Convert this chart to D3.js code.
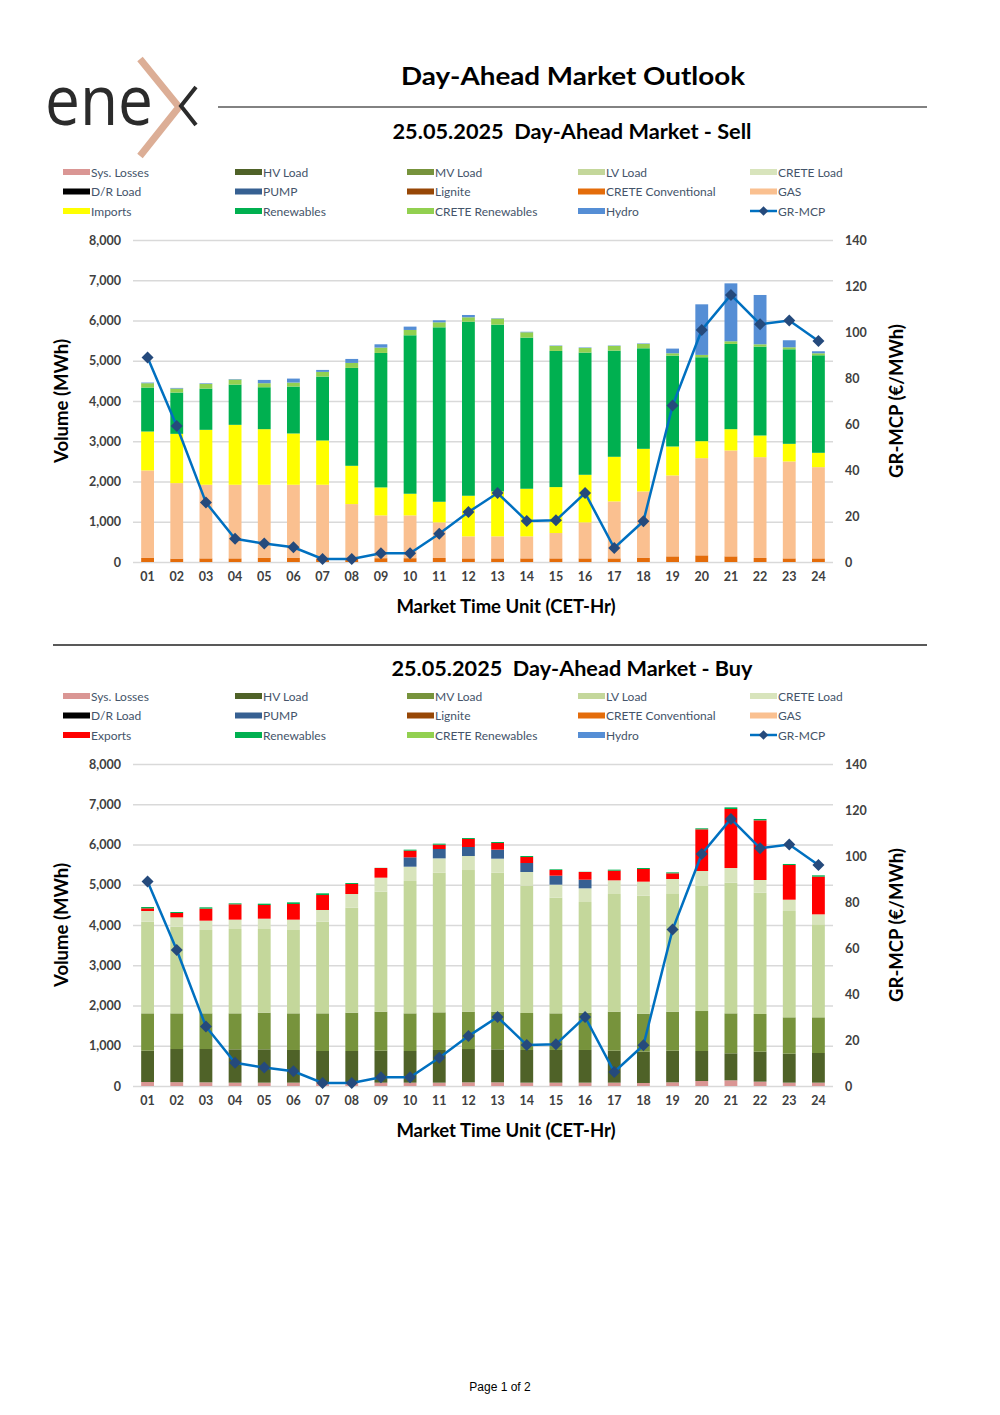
<!DOCTYPE html>
<html>
<head>
<meta charset="utf-8">
<script src="https://cdn.jsdelivr.net/npm/d3@7/dist/d3.min.js"></script>
<style>
body { margin: 0; background: #fff; }
text { font-family: Lato, "DejaVu Sans", sans-serif; }
</style>
</head>
<body>
<svg id="page" width="1000" height="1415"></svg>
<script>
// hours of the day (x categories)
var hours = ["01","02","03","04","05","06","07","08","09","10","11","12",
             "13","14","15","16","17","18","19","20","21","22","23","24"];

// GR-MCP price, EUR/MWh
var mcp = [88.9, 59.1, 25.9, 10.1, 8.0, 6.4, 1.3, 1.3, 3.8, 3.8, 12.3, 21.7,
           30.0, 17.8, 18.1, 30.0, 6.1, 17.7, 68.0, 100.9, 116.1, 103.4, 105.0, 96.1];

// ---- Sell side (MWh) ----
var creteConv = [100, 85, 90, 90, 100, 100, 90, 90, 95, 95, 100, 90,
                 90, 90, 90, 90, 90, 100, 140, 165, 140, 100, 90, 90];
var gas = [2175, 1875, 1829, 1829, 1819, 1819, 1829, 1349, 1063, 1063, 884, 547,
           547, 547, 630, 894, 1415, 1653, 2010, 2415, 2631, 2505, 2408, 2267];
var imports = [967, 1224, 1365, 1489, 1381, 1274, 1100, 951, 695, 538, 513, 1009,
               1116, 1183, 1141, 1183, 1109, 1059, 720, 422, 529, 538, 438, 356];
var renewables = [1092, 1026, 1025, 1000, 1042, 1166, 1588, 2432, 3341, 3937, 4334, 4326,
                  4144, 3755, 3383, 3036, 2638, 2498, 2258, 2085, 2118, 2209, 2349, 2423];
var creteRen = [108, 99, 116, 125, 100, 99, 116, 124, 133, 132, 124, 108,
                149, 132, 124, 115, 116, 108, 58, 58, 66, 57, 50, 50];
var hydro = [16, 16, 15, 12, 82, 99, 49, 99, 82, 83, 50, 57,
             10, 13, 10, 12, 10, 12, 116, 1257, 1439, 1225, 174, 50];

// ---- Buy side (MWh) ----
var sysLosses = [99, 95, 91, 83, 83, 83, 83, 83, 83, 83, 83, 91,
                 91, 83, 83, 83, 83, 75, 91, 124, 141, 108, 83, 83];
var hvLoad = [779, 824, 828, 828, 828, 812, 787, 787, 795, 787, 812, 828,
              820, 812, 812, 812, 795, 778, 787, 746, 671, 745, 720, 737];
var mvLoad = [927, 886, 886, 894, 911, 910, 935, 952, 969, 935, 935, 928,
              936, 919, 910, 927, 969, 944, 969, 993, 993, 936, 903, 886];
var lvLoad = [2278, 2154, 2071, 2096, 2079, 2071, 2278, 2609, 2981, 3288, 3470, 3519,
              3453, 3163, 2874, 2749, 2923, 2932, 2940, 3106, 3247, 3014, 2642, 2311];
var creteLoad = [265, 231, 232, 232, 256, 257, 290, 339, 348, 356, 356, 348,
                 348, 340, 323, 340, 340, 348, 356, 373, 364, 315, 281, 248];
var pump = [0, 0, 0, 0, 0, 0, 0, 0, 0, 232, 232, 224,
            224, 223, 224, 215, 0, 0, 0, 0, 0, 0, 0, 0];
var exportsMW = [66, 108, 298, 381, 340, 389, 372, 249, 240, 166, 108, 199,
                 165, 149, 140, 191, 240, 314, 141, 1035, 1466, 1482, 862, 936];
var buyRen = [33, 25, 33, 24, 33, 41, 42, 24, 4, 25, 25, 24,
              25, 25, 17, 5, 25, 25, 24, 25, 41, 34, 25, 33];

var colors = {
	sys: "#da9694", hv: "#4f6228", mv: "#77933c", lv: "#c4d79b", creteLoad: "#d8e4bc",
	dr: "#000000", pump: "#366092", lignite: "#974706", creteConv: "#e46c0a", gas: "#fac090",
	imports: "#ffff00", exports: "#ff0000", ren: "#00b050", creteRen: "#92d050", hydro: "#558ed5",
	line: "#0070c0", marker: "#254a7c"
};

var svg = d3.select("#page");

// logo
var logo = svg.append("g");
logo.append("text")
	.attr("x", 45).attr("y", 125)
	.attr("textLength", 108).attr("lengthAdjust", "spacingAndGlyphs")
	.style("font-family", "'Open Sans', sans-serif")
	.style("font-size", "70px").style("font-weight", 400)
	.attr("fill", "#2b2b2b").text("ene");
logo.append("path")
	.attr("d", "M140,59 L179,107 L140,156")
	.attr("fill", "none").attr("stroke", "#dcae96").attr("stroke-width", 7);
logo.append("path")
	.attr("d", "M196,87 L181,106 L196,125")
	.attr("fill", "none").attr("stroke", "#2b2b2b").attr("stroke-width", 4);

// page title
svg.append("text")
	.attr("x", 573).attr("y", 85)
	.attr("text-anchor", "middle")
	.attr("textLength", 344).attr("lengthAdjust", "spacingAndGlyphs")
	.style("font-size", "25px").style("font-weight", "bold")
	.text("Day-Ahead Market Outlook");
svg.append("line")
	.attr("x1", 218).attr("x2", 927).attr("y1", 107).attr("y2", 107)
	.attr("stroke", "#595959").attr("stroke-width", 1.5);
svg.append("line")
	.attr("x1", 53).attr("x2", 927).attr("y1", 645).attr("y2", 645)
	.attr("stroke", "#595959").attr("stroke-width", 2);

svg.append("text")
	.attr("x", 500).attr("y", 1391)
	.attr("text-anchor", "middle")
	.style("font-family", "'Liberation Sans', Arial, sans-serif")
	.style("font-size", "12px")
	.text("Page 1 of 2");

// diamond marker: a square turned 45 degrees
var diamond = d3.symbol(d3.symbolSquare, 72)();

// Draw one stacked bar + price line panel
function drawPanel(cfg) {
	var g = svg.append("g");

	// subtitle
	g.append("text")
		.attr("x", 572).attr("y", cfg.titleY)
		.attr("text-anchor", "middle")
		.attr("textLength", cfg.titleLen).attr("lengthAdjust", "spacingAndGlyphs")
		.style("font-size", "20px").style("font-weight", "bold")
		.style("white-space", "pre")
		.text(cfg.title);

	// legend
	var legendCols = [63, 235, 407, 578, 750];
	cfg.legend.forEach(function(item, i) {
		var lx = legendCols[i % 5];
		var ly = cfg.legendY + Math.floor(i / 5) * 19.5;
		if (item.line) {
			g.append("line")
				.attr("x1", lx).attr("x2", lx + 27).attr("y1", ly).attr("y2", ly)
				.attr("stroke", colors.line).attr("stroke-width", 2.5);
			g.append("path")
				.attr("d", d3.symbol(d3.symbolSquare, 45)())
				.attr("transform", "translate(" + (lx + 13.5) + "," + ly + ") rotate(45)")
				.attr("fill", colors.marker);
		} else {
			g.append("rect")
				.attr("x", lx).attr("y", ly - 3)
				.attr("width", 27).attr("height", 6)
				.attr("fill", item.color);
		}
		g.append("text")
			.attr("x", lx + 28).attr("y", ly + 4.5)
			.style("font-size", "12px")
			.attr("fill", "#44546a")
			.text(item.name);
	});

	var x = d3.scaleBand()
		.domain(hours)
		.range([133, 833])
		.paddingInner(0.56)
		.paddingOuter(0.28);
	var y = d3.scaleLinear().domain([0, 8000]).range([cfg.zeroY, cfg.zeroY - 322]);
	var y2 = d3.scaleLinear().domain([0, 140]).range([cfg.zeroY, cfg.zeroY - 322]);

	// gridlines
	var grid = g.append("g")
		.attr("transform", "translate(133,0)")
		.call(d3.axisLeft(y).tickValues(d3.range(0, 8001, 1000)).tickSize(-700).tickFormat(""));
	grid.select(".domain").remove();
	grid.selectAll("line").attr("stroke", "#d9d9d9").attr("stroke-width", 1.3);

	// left axis
	var yAxis = g.append("g")
		.attr("transform", "translate(133,0)")
		.call(d3.axisLeft(y).tickValues(d3.range(0, 8001, 1000)).tickSize(0).tickPadding(12)
			.tickFormat(d3.format(",")));
	yAxis.select(".domain").remove();
	yAxis.selectAll("text")
		.style("font-family", "Lato, sans-serif").style("font-size", "12.5px").style("font-weight", "bold")
		.attr("fill", "#404040");

	// right axis
	var yAxis2 = g.append("g")
		.attr("transform", "translate(833,0)")
		.call(d3.axisRight(y2).tickValues(d3.range(0, 141, 20)).tickSize(0).tickPadding(12));
	yAxis2.select(".domain").remove();
	yAxis2.selectAll("text")
		.style("font-family", "Lato, sans-serif").style("font-size", "12.5px").style("font-weight", "bold")
		.attr("fill", "#404040");

	// stacked bars
	var table = hours.map(function(h, i) {
		var row = { hour: h };
		cfg.series.forEach(function(s) { row[s.key] = s.values[i]; });
		return row;
	});
	var stack = d3.stack().keys(cfg.series.map(function(s) { return s.key; }));
	var layers = stack(table);

	g.selectAll(".layer")
		.data(layers)
		.enter().append("g")
		.attr("fill", function(d, i) { return cfg.series[i].color; })
		.selectAll("rect")
		.data(function(d) { return d; })
		.enter().append("rect")
		.attr("x", function(d) { return x(d.data.hour); })
		.attr("width", x.bandwidth())
		.attr("y", function(d) { return y(d[1]); })
		.attr("height", function(d) { return Math.max(0, y(d[0]) - y(d[1])); });

	// x axis labels
	var xAxis = g.append("g")
		.attr("transform", "translate(0," + cfg.zeroY + ")")
		.call(d3.axisBottom(x).tickSize(0).tickPadding(10));
	xAxis.select(".domain").remove();
	xAxis.selectAll("text")
		.style("font-family", "Lato, sans-serif").style("font-size", "12.5px").style("font-weight", "bold")
		.attr("fill", "#404040");

	// price line
	var line = d3.line()
		.x(function(d, i) { return x(hours[i]) + x.bandwidth() / 2; })
		.y(function(d) { return y2(d); });
	g.append("path")
		.datum(mcp)
		.attr("d", line)
		.attr("fill", "none")
		.attr("stroke", colors.line)
		.attr("stroke-width", 2.5);
	g.selectAll(".mk")
		.data(mcp)
		.enter().append("path")
		.attr("d", diamond)
		.attr("transform", function(d, i) {
			return "translate(" + (x(hours[i]) + x.bandwidth() / 2) + "," + y2(d) + ") rotate(45)";
		})
		.attr("fill", colors.marker);

	// axis titles
	g.append("text")
		.attr("transform", "translate(68," + (cfg.zeroY - 161) + ") rotate(-90)")
		.attr("text-anchor", "middle")
		.style("font-size", "18.5px").style("font-weight", "bold")
		.text("Volume (MWh)");
	g.append("text")
		.attr("transform", "translate(903," + (cfg.zeroY - 161) + ") rotate(-90)")
		.attr("text-anchor", "middle")
		.style("font-size", "18.5px").style("font-weight", "bold")
		.text("GR-MCP (€/MWh)");
	g.append("text")
		.attr("x", 506).attr("y", cfg.zeroY + 51)
		.attr("text-anchor", "middle")
		.style("font-size", "18.5px").style("font-weight", "bold")
		.text("Market Time Unit (CET-Hr)");
}

function legendItems(third) {
	return [
		{ name: "Sys. Losses", color: colors.sys },
		{ name: "HV Load", color: colors.hv },
		{ name: "MV Load", color: colors.mv },
		{ name: "LV Load", color: colors.lv },
		{ name: "CRETE Load", color: colors.creteLoad },
		{ name: "D/R Load", color: colors.dr },
		{ name: "PUMP", color: colors.pump },
		{ name: "Lignite", color: colors.lignite },
		{ name: "CRETE Conventional", color: colors.creteConv },
		{ name: "GAS", color: colors.gas },
		third,
		{ name: "Renewables", color: colors.ren },
		{ name: "CRETE Renewables", color: colors.creteRen },
		{ name: "Hydro", color: colors.hydro },
		{ name: "GR-MCP", line: true }
	];
}

drawPanel({
	title: "25.05.2025  Day-Ahead Market - Sell",
	titleY: 139, titleLen: 359,
	legendY: 172,
	zeroY: 562,
	legend: legendItems({ name: "Imports", color: colors.imports }),
	series: [
		{ key: "creteConv", values: creteConv, color: colors.creteConv },
		{ key: "gas", values: gas, color: colors.gas },
		{ key: "imports", values: imports, color: colors.imports },
		{ key: "ren", values: renewables, color: colors.ren },
		{ key: "creteRen", values: creteRen, color: colors.creteRen },
		{ key: "hydro", values: hydro, color: colors.hydro }
	]
});

drawPanel({
	title: "25.05.2025  Day-Ahead Market - Buy",
	titleY: 676, titleLen: 361,
	legendY: 696,
	zeroY: 1086,
	legend: legendItems({ name: "Exports", color: colors.exports }),
	series: [
		{ key: "sys", values: sysLosses, color: colors.sys },
		{ key: "hv", values: hvLoad, color: colors.hv },
		{ key: "mv", values: mvLoad, color: colors.mv },
		{ key: "lv", values: lvLoad, color: colors.lv },
		{ key: "creteLoad", values: creteLoad, color: colors.creteLoad },
		{ key: "pump", values: pump, color: colors.pump },
		{ key: "exports", values: exportsMW, color: colors.exports },
		{ key: "ren", values: buyRen, color: colors.ren }
	]
});
</script>
</body>
</html>
